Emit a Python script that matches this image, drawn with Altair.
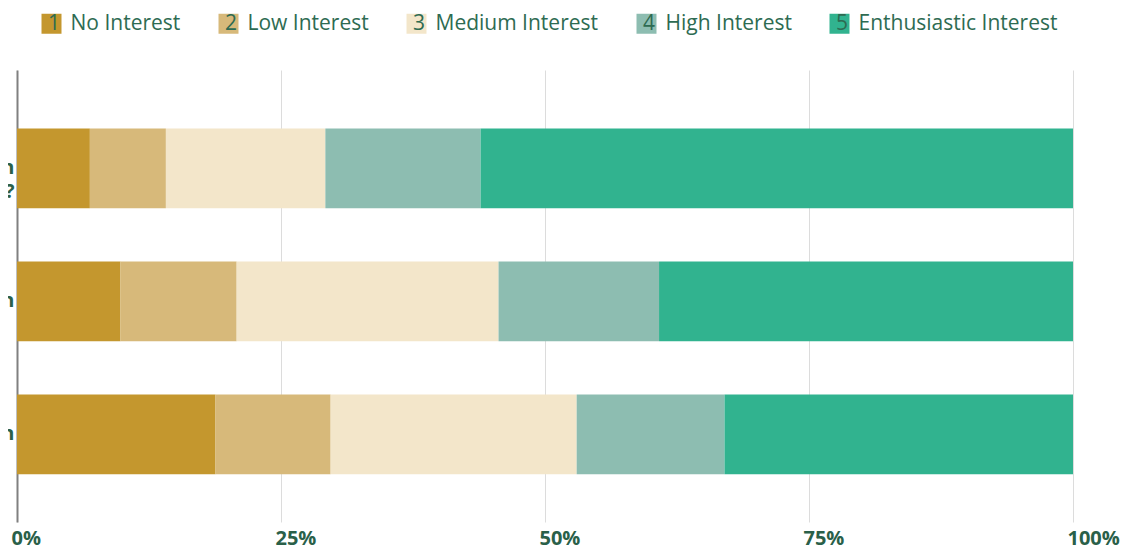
import altair as alt
import pandas as pd

questions = [
    "How interested are you in|participating in a discussion?|",
    "Interest in an online session|||",
    "Interest in an in-person session|",
]
levels = ["No Interest", "Low Interest", "Medium Interest", "High Interest", "Enthusiastic Interest"]
level_nums = ["1", "2", "3", "4", "5"]
colors = ["#C4972E", "#D7B97A", "#F3E6CA", "#8DBDB1", "#31B38F"]

q1_values = [6.9, 7.2, 15.1, 14.7, 56.1]
q2_values = [9.8, 11.0, 24.8, 15.2, 39.2]
q3_values = [18.8, 10.9, 23.3, 14.0, 33.0]
series = [q1_values, q2_values, q3_values]

legend_labels = [f"{n}\u2002{name}" for n, name in zip(level_nums, levels)]

rows = []
for q, vals in zip(questions, series):
    for i, v in enumerate(vals):
        rows.append({"question": q, "level": legend_labels[i], "order": i, "value": v})
df = pd.DataFrame(rows)

chart = alt.Chart(df).mark_bar().encode(
    y=alt.Y(
        "question:N",
        sort=questions,
        title=None,
        scale=alt.Scale(paddingInner=0.4, paddingOuter=0.4, align=0.55),
        axis=alt.Axis(
            labelExpr="split(datum.label, '|')",
            labelAlign="right",
            labelPadding=3,
            labelLimit=2000,
            labelFont="Open Sans",
            labelFontWeight="bold",
            labelFontSize=20,
            labelLineHeight=24,
            labelColor="#2A6049",
            ticks=False,
            domain=True,
            domainColor="#808080",
            domainWidth=2,
            grid=False,
        ),
    ),
    x=alt.X(
        "value:Q",
        stack="normalize",
        title=None,
        scale=alt.Scale(domain=[0, 1], nice=False),
        axis=alt.Axis(
            values=[0, 0.25, 0.5, 0.75, 1.0],
            format=".0%",
            labelAlign="left",
            labelBaseline="top",
            labelPadding=6,
            labelOffset={"expr": "-6"},
            labelFont="Open Sans",
            labelFontWeight="bold",
            labelFontSize=20,
            labelColor="#2A6049",
            ticks=False,
            domain=False,
            grid=True,
            gridColor="#DCDCDC",
            gridWidth=1,
        ),
    ),
    color=alt.Color(
        "level:N",
        sort=legend_labels,
        scale=alt.Scale(domain=legend_labels, range=colors),
        legend=alt.Legend(
            title=None,
            orient="none",
            legendX=24,
            legendY=-57,
            direction="horizontal",
            columns=5,
            columnPadding=37,
            symbolType="square",
            symbolSize=400,
            symbolStrokeWidth=0,
            symbolOpacity=1,
            labelOffset={"expr": "-14"},
            labelFont="Open Sans",
            labelFontSize=21,
            labelColor="#2E6B52",
            labelLimit=400,
        ),
    ),
    order=alt.Order("order:Q", sort="ascending"),
).properties(
    width=1056,
    height=452,
    padding={"left": 9, "top": 62, "right": 58, "bottom": 34},
    autosize=alt.AutoSizeParams(type="none"),
).configure_view(stroke=None)

chart.save("out.html", embed_options={"renderer": "svg", "actions": False})
